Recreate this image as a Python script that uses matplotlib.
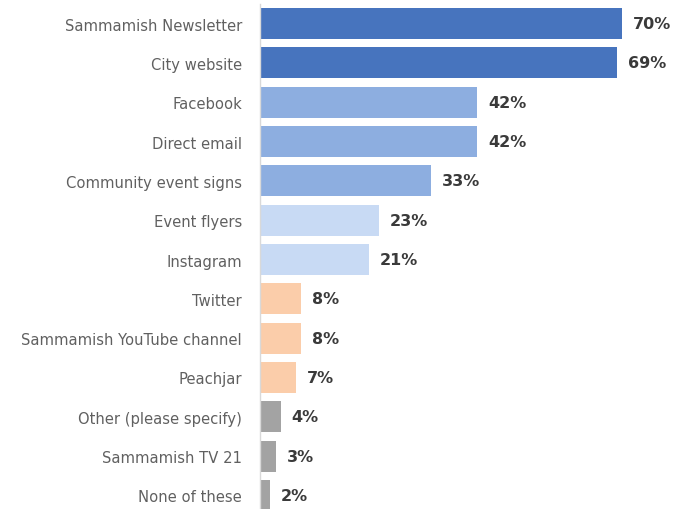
import matplotlib.pyplot as plt

sources = ["Sammamish Newsletter", "City website", "Facebook", "Direct email",
           "Community event signs", "Event flyers", "Instagram", "Twitter",
           "Sammamish YouTube channel", "Peachjar", "Other (please specify)",
           "Sammamish TV 21", "None of these"]
percent = [70, 69, 42, 42, 33, 23, 21, 8, 8, 7, 4, 3, 2]

# colour per bar group
colors = (["#4774be"] * 2 + ["#8daee0"] * 3 + ["#c8daf4"] * 2
          + ["#fbcdaa"] * 3 + ["#a3a3a3"] * 3)

fig = plt.figure(figsize=(6.78, 5.10), dpi=100)
ax = fig.add_axes([260 / 678, -6 / 510, 414 / 678, 511 / 510])

ypos = list(range(len(sources)))
ax.barh(ypos, percent, height=0.79, color=colors)

for y, v in zip(ypos, percent):
    ax.text(v + 2.1, y, f"{v}%", va="center", ha="left",
            fontsize=11.5, fontweight="bold", color="#3a3a3a")

ax.set_xlim(0, 80)
ax.set_ylim(len(sources) - 0.5, -0.5)
ax.set_yticks(ypos)
ax.set_yticklabels(sources, fontsize=10.6, color="#606060")
ax.tick_params(axis="y", length=0, pad=13)
ax.set_xticks([])

for side in ["top", "right", "bottom"]:
    ax.spines[side].set_visible(False)
ax.spines["left"].set_color("#d9d9d9")
ax.spines["left"].set_linewidth(1)

fig.savefig("out.png", dpi=100)
